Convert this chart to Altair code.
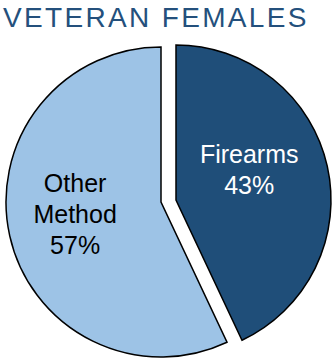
import altair as alt
import pandas as pd

TITLE = "VETERAN FEMALES"
CATEGORIES = ["Firearms", "Other Method"]
PERCENTS = [43, 57]
FILL_COLORS = ["#1f4e79", "#9dc3e6"]
TEXT_COLORS = ["#ffffff", "#000000"]

df = pd.DataFrame({
    "category": CATEGORIES,
    "value": PERCENTS,
    "label": [c.replace(" ", "\n") + "\n" + f"{v}%" for c, v in zip(CATEGORIES, PERCENTS)],
})

base = alt.Chart(df)
theta = alt.Theta("value:Q", stack=True)
order = alt.Order("category:N", sort="ascending")
color = alt.Color("category:N", scale=alt.Scale(domain=CATEGORIES, range=FILL_COLORS), legend=None)


def arc_layer(cat, cx, cy):
    return base.mark_arc(radius=155, stroke="black", strokeWidth=1.5).encode(
        theta=theta, order=order, color=color,
        x=alt.value(cx), y=alt.value(cy),
        opacity=alt.condition(f"datum.category === '{cat}'", alt.value(1), alt.value(0)),
    )


def text_layer(cat, cx, cy, r, dx, dy, tcolor):
    return base.mark_text(
        radius=r, dx=dx, dy=dy, fontSize=25, font="Liberation Sans", lineBreak="\n",
        lineHeight=31, align="center", baseline="middle",
    ).encode(
        theta=theta, order=order, text="label:N", color=alt.value(tcolor),
        x=alt.value(cx), y=alt.value(cy),
        opacity=alt.condition(f"datum.category === '{cat}'", alt.value(1), alt.value(0)),
    )


title = alt.Chart(alt.Data(values=[{"t": "\u200a".join(TITLE)}])).mark_text(
    align="left", baseline="alphabetic", fontSize=28, font="Liberation Sans", color="#24507c"
).encode(text="t:N", x=alt.value(3), y=alt.value(27))

chart = alt.layer(
    arc_layer("Other Method", 161, 202),
    arc_layer("Firearms", 176, 200),
    text_layer("Other Method", 161, 202, 87, -1, -37, TEXT_COLORS[1]),
    text_layer("Firearms", 176, 200, 75, 0, -29, TEXT_COLORS[0]),
    title,
).properties(
    width=334, height=358, padding=0, autosize=alt.AutoSizeParams(type="none"),
    background="white",
).configure_view(stroke=None)

chart.save("out.html", embed_options={"renderer": "svg", "actions": False})
